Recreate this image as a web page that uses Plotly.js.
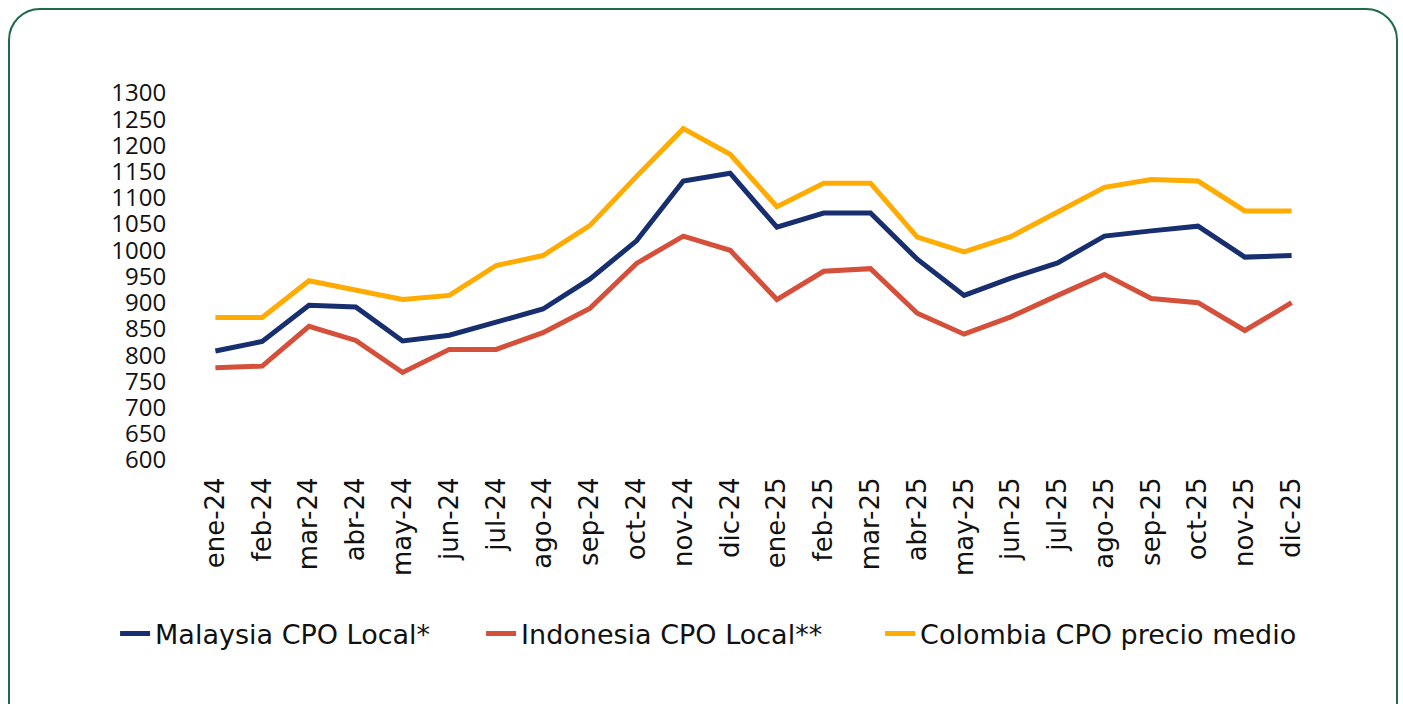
<!DOCTYPE html>
<html>
<head>
<meta charset="utf-8">
<script src="https://cdn.plot.ly/plotly-3.0.1.min.js"></script>
<style>
  html, body { margin: 0; padding: 0; background: #ffffff; }
  #wrap { position: relative; width: 1403px; height: 704px; overflow: hidden; }
  #chart { position: absolute; left: 0; top: 0; width: 1403px; height: 704px; }
  #frame { position: absolute; left: 8px; top: 8px; width: 1390px; height: 740px;
           border: 2.5px solid #1e6a4a; border-radius: 32px; pointer-events: none; box-sizing: border-box; }
</style>
</head>
<body>
<div id="wrap">
  <div id="chart"></div>
  <div id="frame"></div>
</div>
<script>
const months = ["ene-24","feb-24","mar-24","abr-24","may-24","jun-24","jul-24","ago-24","sep-24","oct-24","nov-24","dic-24",
                "ene-25","feb-25","mar-25","abr-25","may-25","jun-25","jul-25","ago-25","sep-25","oct-25","nov-25","dic-25"];
const malaysia = [808, 826, 895, 892, 827, 838, 863, 888, 945, 1018, 1132, 1147,
                  1044, 1071, 1071, 983, 914, 947, 976, 1027, 1037, 1046, 987, 990];
const indonesia = [776, 779, 855, 828, 767, 811, 811, 843, 889, 975, 1027, 1000,
                   906, 960, 965, 880, 840, 873, 914, 954, 908, 900, 847, 900];
const colombia = [872, 872, 942, 925, 906, 914, 971, 990, 1047, 1141, 1232, 1183,
                  1083, 1128, 1128, 1025, 997, 1026, 1073, 1120, 1135, 1132, 1075, 1075];
const yTicks = [600,650,700,750,800,850,900,950,1000,1050,1100,1150,1200,1250,1300];
const seriesNames = ['Malaysia CPO Local*', 'Indonesia CPO Local**', 'Colombia CPO precio medio'];

const fontFam = "'Open Sans', 'Noto Sans', sans-serif";
const wideFam = "'DejaVu Sans', 'Open Sans', sans-serif";
const mk = (y, name, color, leg) => ({
  x: months, y: y, name: name, type: 'scatter', mode: 'lines', legend: leg,
  line: { color: color, width: 5 }
});
const data = [
  mk(malaysia, seriesNames[0], '#172f6e', 'legend'),
  mk(indonesia, seriesNames[1], '#d4503a', 'legend2'),
  mk(colombia, seriesNames[2], '#ffab00', 'legend3')
];
const legBase = (x) => ({
  orientation: 'h', x: x, xanchor: 'left', y: -0.474, yanchor: 'middle',
  font: { family: wideFam, size: 27, color: '#111111' },
  bgcolor: 'rgba(0,0,0,0)', borderwidth: 0
});
const layout = {
  width: 1403, height: 704,
  margin: { l: 192, r: 88, t: 93, b: 244 },
  paper_bgcolor: 'rgba(0,0,0,0)', plot_bgcolor: 'rgba(0,0,0,0)',
  font: { family: fontFam, color: '#111111', size: 24 },
  showlegend: true,
  xaxis: {
    type: 'category', range: [-0.5, 23.5], showgrid: false, zeroline: false, showline: false,
    tickangle: -90, ticks: 'outside', ticklen: 6, tickcolor: 'rgba(0,0,0,0)',
    tickfont: { family: wideFam, size: 26, color: '#111111' }
  },
  yaxis: {
    range: [600, 1300], tickvals: yTicks, ticktext: yTicks.map(String),
    showgrid: false, zeroline: false, showline: false,
    ticks: 'outside', ticklen: 20, tickcolor: 'rgba(0,0,0,0)',
    tickfont: { family: fontFam, size: 24, color: '#111111' }
  },
  legend: legBase(-0.0685),
  legend2: legBase(0.2574),
  legend3: legBase(0.6127)
};
Plotly.newPlot('chart', data, layout, { displayModeBar: false, staticPlot: true });
</script>
</body>
</html>
